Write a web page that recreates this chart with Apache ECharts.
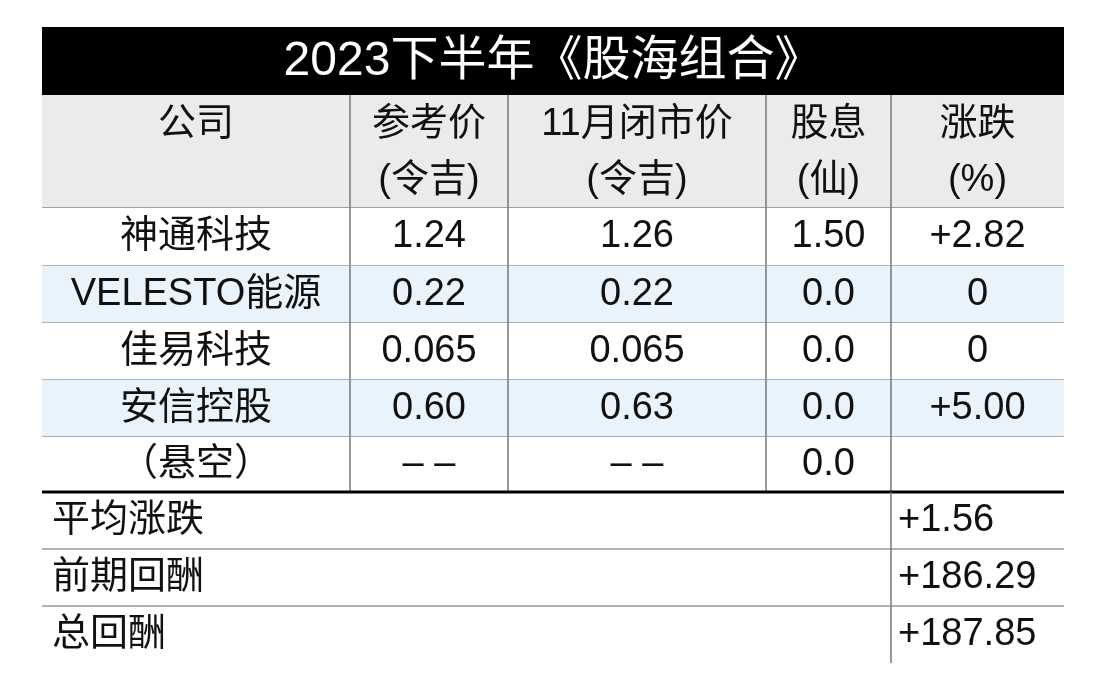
<!DOCTYPE html><html><head><meta charset="utf-8">
<script src="https://cdn.jsdelivr.net/npm/echarts@6/dist/echarts.min.js"></script>
<style>html,body{margin:0;padding:0;background:#fff}#c{width:1104px;height:690px}</style></head><body><div id="c"></div>
<script>
const title = '2023下半年《股海组合》';
const headers = [['公司',''],['参考价','(令吉)'],['11月闭市价','(令吉)'],['股息','(仙)'],['涨跌','(%)']];
const companies = ['神通科技','VELESTO能源','佳易科技','安信控股','（悬空）'];
const refPrice = ['1.24','0.22','0.065','0.60','– –'];
const novClose = ['1.26','0.22','0.065','0.63','– –'];
const dividend = ['1.50','0.0','0.0','0.0','0.0'];
const change = ['+2.82','0','0','+5.00',''];
const summaryLabels = ['平均涨跌','前期回酬','总回酬'];
const summaryValues = ['+1.56','+186.29','+187.85'];

// layout
const colX = [42,350,508,766,891,1064];
const titleY = [27,95], headY = [95,208];
const rowY = [208,266,323,380,437,492];
const sumY = [492,549,606,663];
const FONT = '"Liberation Sans","Noto Sans CJK SC",sans-serif';

const items = [];
items.push({k:'title', x0:colX[0], x1:colX[5], y0:titleY[0], y1:titleY[1], t:title});
headers.forEach((h,i)=>items.push({k:'head', x0:colX[i], x1:colX[i+1], y0:headY[0], y1:headY[1], t:h, c:i}));
const cols=[companies,refPrice,novClose,dividend,change];
companies.forEach((_,r)=>cols.forEach((col,c)=>items.push({k:'cell', x0:colX[c], x1:colX[c+1], y0:rowY[r], y1:rowY[r+1], t:col[r], c, r})));
summaryLabels.forEach((l,r)=>{
  items.push({k:'sumL', x0:colX[0], x1:colX[4], y0:sumY[r], y1:sumY[r+1], t:l, r});
  items.push({k:'sumV', x0:colX[4], x1:colX[5], y0:sumY[r], y1:sumY[r+1], t:summaryValues[r], r});
});

function render(params, api){
  const it = items[params.dataIndex];
  const p0 = api.coord([it.x0,it.y0]), p1 = api.coord([it.x1,it.y1]);
  const x=p0[0], y=p0[1], w=p1[0]-p0[0], h=p1[1]-p0[1];
  const ch=[];
  const line=(a,b,c,d,col,lw)=>ch.push({type:'line',shape:{x1:a,y1:b,x2:c,y2:d},style:{stroke:col,lineWidth:lw}});
  const txt=(s,tx,ty,opt)=>ch.push({type:'text',style:Object.assign({text:s,x:tx,y:ty,fill:'#111',font:'38px '+FONT,textAlign:'center',textVerticalAlign:'middle'},opt||{})});
  if(it.k==='title'){
    ch.push({type:'rect',shape:{x,y,width:w,height:h},style:{fill:'#000'}});
    txt(it.t,x+w/2,y+h/2+1,{fill:'#fff',font:'48px '+FONT});
  } else if(it.k==='head'){
    ch.push({type:'rect',shape:{x,y,width:w,height:h},style:{fill:'#ebebeb'}});
    if(it.c>0) line(x,y,x,y+h,'#777',1.5);
    txt(it.t[0],x+w/2,y+30); if(it.t[1]) txt(it.t[1],x+w/2,y+86);
    line(x,y+h,x+w,y+h,'#888',1.5);
  } else if(it.k==='cell'){
    ch.push({type:'rect',shape:{x,y,width:w,height:h},style:{fill:it.r%2===1?'#e8f3fb':'#fff'}});
    if(it.c>0) line(x,y,x,y+h,'#777',1.5);
    if(it.r<4) line(x,y+h,x+w,y+h,'#999',1.5);
    txt(it.t,x+w/2,y+h/2);
  } else if(it.k==='sumL'){
    txt(it.t,x+10,y+h/2,{textAlign:'left'});
    if(it.r<2) line(x,y+h,x+w,y+h,'#999',1.5);
  } else {
    line(x,y,x,y+h,'#777',1.5);
    txt(it.t,x+7,y+h/2,{textAlign:'left'});
    if(it.r<2) line(x,y+h,x+w,y+h,'#999',1.5);
  }
  if(it.k==='sumL'&&it.r===0) line(x,y,colX[5]-colX[0]+x,y,'#000',3);
  return {type:'group',children:ch};
}

const chart = echarts.init(document.getElementById('c'));
chart.setOption({
  animation:false,
  grid:{left:0,right:0,top:0,bottom:0},
  xAxis:{type:'value',min:0,max:1104,show:false},
  yAxis:{type:'value',min:0,max:690,inverse:true,show:false},
  series:[{type:'custom',renderItem:render,data:items.map((_,i)=>[i]),silent:true,clip:false}]
});
</script></body></html>
